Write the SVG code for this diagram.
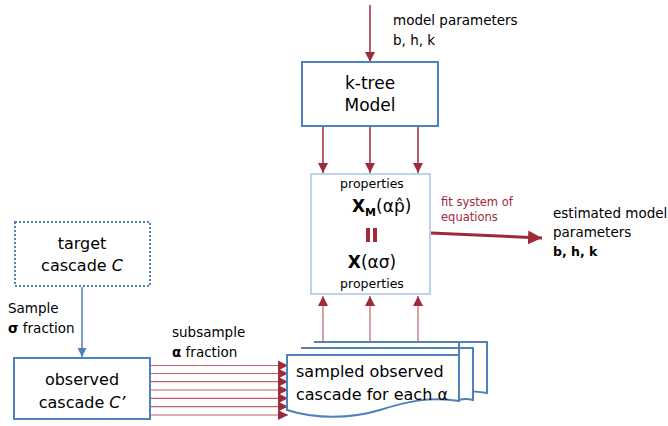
<svg xmlns="http://www.w3.org/2000/svg" width="668" height="426" viewBox="0 0 668 426">
<defs>
<style>
text{font-family:"DejaVu Sans","Liberation Sans",sans-serif;fill:#000}
.box{fill:#fff;stroke:#4f81bd;stroke-width:2}
.red{stroke:#9e2a3c;stroke-width:1.5;fill:none}
.lred{stroke:#c0606e;stroke-width:1.2;fill:none}
.blue{stroke:#4f81bd;stroke-width:1.5;fill:none}
.c{text-anchor:middle}
</style>
<marker id="ar" viewBox="0 0 10 10" refX="10" refY="5" markerWidth="10" markerHeight="10" markerUnits="userSpaceOnUse" orient="auto"><path d="M0,0 L10,5 L0,10 Z" fill="#9e2a3c"/></marker>
<marker id="arB" viewBox="0 0 10 10" refX="10" refY="5" markerWidth="9" markerHeight="9" markerUnits="userSpaceOnUse" orient="auto"><path d="M0,0 L10,5 L0,10 Z" fill="#4f81bd"/></marker>
<marker id="arL" viewBox="0 0 10 10" refX="10" refY="5" markerWidth="14" markerHeight="14" markerUnits="userSpaceOnUse" orient="auto"><path d="M0,0 L10,5 L0,10 Z" fill="#9e2a3c"/></marker>
</defs>
<g id="connectors">
<line class="red" x1="370" y1="5" x2="370" y2="62" marker-end="url(#ar)"/>
<line class="red" x1="323" y1="127" x2="323" y2="173" marker-end="url(#ar)"/>
<line class="red" x1="370" y1="127" x2="370" y2="173" marker-end="url(#ar)"/>
<line class="red" x1="418" y1="127" x2="418" y2="173" marker-end="url(#ar)"/>
<line class="lred" x1="323" y1="342" x2="323" y2="296" marker-end="url(#ar)"/>
<line class="lred" x1="370" y1="342" x2="370" y2="296" marker-end="url(#ar)"/>
<line class="lred" x1="418" y1="342" x2="418" y2="296" marker-end="url(#ar)"/>
<line stroke="#9e2a3c" stroke-width="3" x1="431" y1="233" x2="542" y2="238" marker-end="url(#arL)"/>
<line class="blue" x1="82" y1="287" x2="82" y2="357" marker-end="url(#arB)"/>
<g>
<line class="lred" x1="151" y1="365.5" x2="288" y2="365.5" marker-end="url(#ar)"/>
<line class="lred" x1="151" y1="373.5" x2="288" y2="373.5" marker-end="url(#ar)"/>
<line class="lred" x1="151" y1="381.7" x2="288" y2="381.7" marker-end="url(#ar)"/>
<line class="lred" x1="151" y1="390" x2="288" y2="390" marker-end="url(#ar)"/>
<line class="lred" x1="151" y1="398.3" x2="288" y2="398.3" marker-end="url(#ar)"/>
<line class="lred" x1="151" y1="406.6" x2="288" y2="406.6" marker-end="url(#ar)"/>
<line class="lred" x1="151" y1="415" x2="288" y2="415" marker-end="url(#ar)"/>
</g>
</g>
<g id="model-params-label">
<text x="393" y="25" font-size="13.5">model parameters</text>
<text x="393" y="45" font-size="13.5">b, h, k</text>
</g>
<g id="ktree">
<rect class="box" x="302" y="62" width="136" height="64"/>
<text class="c" x="370" y="89" font-size="17">k-tree</text>
<text class="c" x="370" y="111" font-size="17">Model</text>
</g>
<g id="properties">
<rect x="311" y="174" width="119" height="120" fill="#fff" stroke="#a9c3e3" stroke-width="1.5"/>
<text class="c" x="372" y="188" font-size="12.5">properties</text>
<text x="352" y="212" font-size="17"><tspan font-weight="bold">X</tspan><tspan font-weight="bold" font-size="11" dy="4">M</tspan><tspan dy="-4">(αp̂)</tspan></text>
<rect x="366" y="228" width="4" height="14" fill="#9e2a3c"/>
<rect x="373" y="228" width="4" height="14" fill="#9e2a3c"/>
<text class="c" x="372" y="268" font-size="17"><tspan font-weight="bold">X</tspan>(ασ)</text>
<text class="c" x="372" y="288" font-size="12.5">properties</text>
</g>
<g id="fit-label">
<text x="441" y="206" font-size="11.5" style="fill:#9e2a3c">fit system of</text>
<text x="441" y="221" font-size="11.5" style="fill:#9e2a3c">equations</text>
</g>
<g id="estimated">
<text x="553" y="218" font-size="13.5">estimated model</text>
<text x="553" y="237" font-size="13.5">parameters</text>
<text x="553" y="256" font-size="12.5" font-weight="bold">b, h, k</text>
</g>
<g id="target">
<rect x="15" y="222" width="135" height="64" fill="#fff" stroke="#4f81bd" stroke-width="2" stroke-dasharray="2 2"/>
<text class="c" x="82" y="249" font-size="16">target</text>
<text class="c" x="82" y="271" font-size="16">cascade <tspan font-style="italic">C</tspan></text>
</g>
<g id="sample-label">
<text x="8" y="313" font-size="13.5">Sample</text>
<text x="8" y="333" font-size="13.5"><tspan font-weight="bold">σ</tspan> fraction</text>
</g>
<g id="observed">
<rect class="box" x="14" y="358" width="136" height="61"/>
<text class="c" x="82" y="385" font-size="16">observed</text>
<text class="c" x="82" y="408" font-size="16">cascade <tspan font-style="italic">C’</tspan></text>
</g>
<g id="subsample-label">
<text x="172" y="337" font-size="13.5">subsample</text>
<text x="172" y="357" font-size="13.5"><tspan font-weight="bold">α</tspan> fraction</text>
</g>
<g id="sampled">
<path class="box" d="M314,342 H487 V393 C470,390 462,392 459,394 L459,342 Z"/>
<path class="box" d="M301,348 H473 V400 C466,398 462,399 459,400 L459,348 Z"/>
<path class="box" d="M287,355 H459 V401 C430,396 405,402 380,410 C350,419 315,419 287,410 Z"/>
<text x="296" y="377" font-size="16">sampled observed</text>
<text x="296" y="400" font-size="16">cascade for each α</text>
</g>
</svg>
